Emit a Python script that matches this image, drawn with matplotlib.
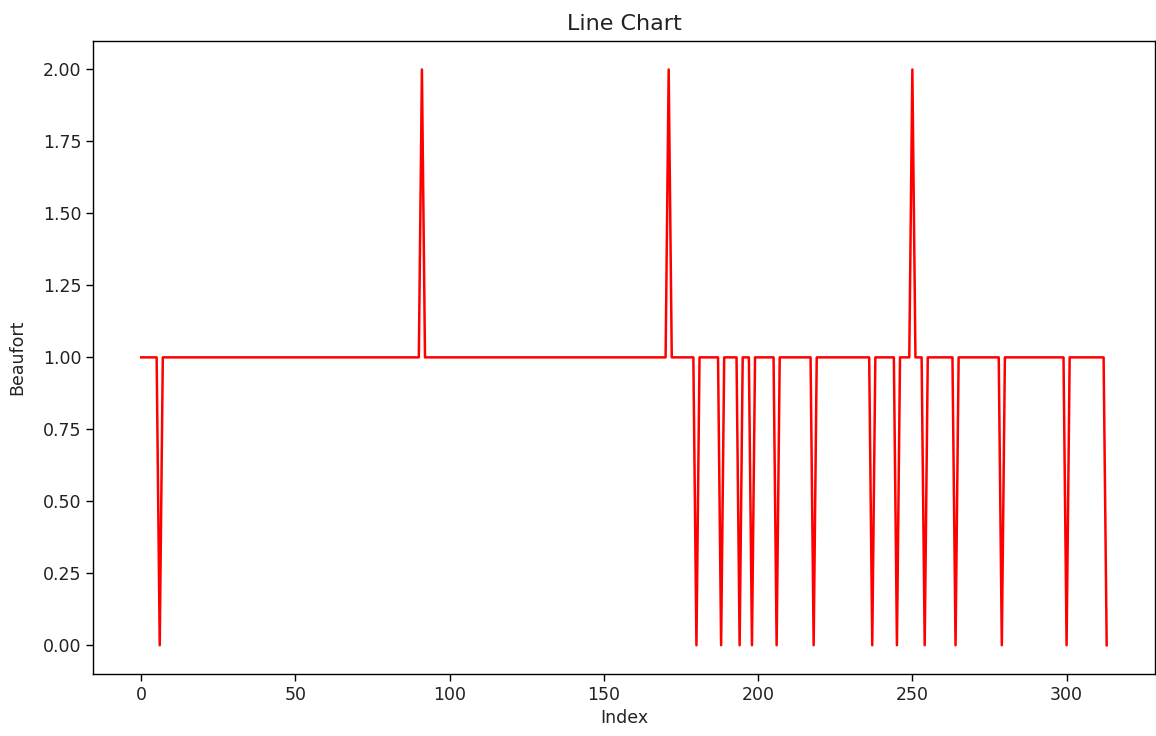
import matplotlib
matplotlib.use("Agg")
import matplotlib.pyplot as plt

title = "Line Chart"
x_label = "Index"
y_label = "Beaufort"

beaufort = [
    1, 1, 1, 1, 1, 1, 0, 1, 1, 1, 1, 1, 1, 1, 1, 1, 1, 1, 1, 1,
    1, 1, 1, 1, 1, 1, 1, 1, 1, 1, 1, 1, 1, 1, 1, 1, 1, 1, 1, 1,
    1, 1, 1, 1, 1, 1, 1, 1, 1, 1, 1, 1, 1, 1, 1, 1, 1, 1, 1, 1,
    1, 1, 1, 1, 1, 1, 1, 1, 1, 1, 1, 1, 1, 1, 1, 1, 1, 1, 1, 1,
    1, 1, 1, 1, 1, 1, 1, 1, 1, 1, 1, 2, 1, 1, 1, 1, 1, 1, 1, 1,
    1, 1, 1, 1, 1, 1, 1, 1, 1, 1, 1, 1, 1, 1, 1, 1, 1, 1, 1, 1,
    1, 1, 1, 1, 1, 1, 1, 1, 1, 1, 1, 1, 1, 1, 1, 1, 1, 1, 1, 1,
    1, 1, 1, 1, 1, 1, 1, 1, 1, 1, 1, 1, 1, 1, 1, 1, 1, 1, 1, 1,
    1, 1, 1, 1, 1, 1, 1, 1, 1, 1, 1, 2, 1, 1, 1, 1, 1, 1, 1, 1,
    0, 1, 1, 1, 1, 1, 1, 1, 0, 1, 1, 1, 1, 1, 0, 1, 1, 1, 0, 1,
    1, 1, 1, 1, 1, 1, 0, 1, 1, 1, 1, 1, 1, 1, 1, 1, 1, 1, 0, 1,
    1, 1, 1, 1, 1, 1, 1, 1, 1, 1, 1, 1, 1, 1, 1, 1, 1, 0, 1, 1,
    1, 1, 1, 1, 1, 0, 1, 1, 1, 1, 2, 1, 1, 1, 0, 1, 1, 1, 1, 1,
    1, 1, 1, 1, 0, 1, 1, 1, 1, 1, 1, 1, 1, 1, 1, 1, 1, 1, 1, 0,
    1, 1, 1, 1, 1, 1, 1, 1, 1, 1, 1, 1, 1, 1, 1, 1, 1, 1, 1, 1,
    0, 1, 1, 1, 1, 1, 1, 1, 1, 1, 1, 1, 1, 0,
]
index = list(range(len(beaufort)))

fig = plt.figure(figsize=(11.56, 7.36), dpi=100)
ax = fig.add_subplot(111)
fig.subplots_adjust(left=0.0804, right=0.9991, top=0.9447, bottom=0.0842)
ax.plot(index, beaufort, color="red", linewidth=1.8)
ax.set_title(title, fontsize=16, pad=8, color="#222222")
ax.set_xlabel(x_label, fontsize=12.5, color="#222222")
ax.set_ylabel(y_label, fontsize=12.5, labelpad=12, color="#222222")
ax.tick_params(labelsize=12.5, length=5, width=1.0, labelcolor="#222222")
for s in ax.spines.values():
    s.set_linewidth(1.0)
fig.savefig("out.png", dpi=100)
